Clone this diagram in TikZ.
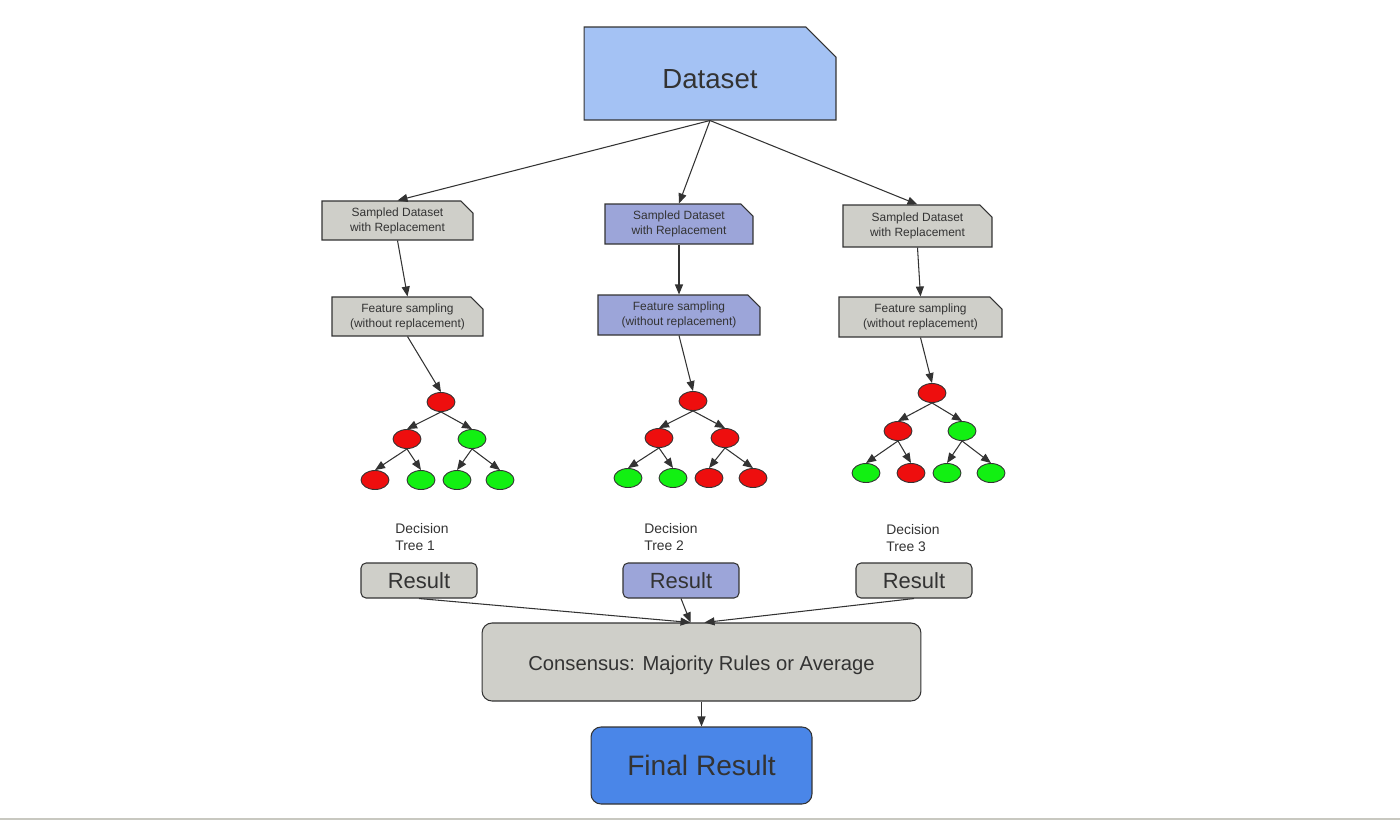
\documentclass[tikz,border=0pt]{standalone}
\usepackage{fontspec}
\setmainfont{Liberation Sans}
\usetikzlibrary{arrows.meta,positioning,shapes.geometric,shapes.misc}
\definecolor{dsblue}{RGB}{164,194,244}
\definecolor{lilac}{RGB}{156,165,217}
\definecolor{boxgray}{RGB}{207,207,201}
\definecolor{finblue}{RGB}{74,134,232}
\definecolor{leafred}{RGB}{238,14,14}
\definecolor{leafgreen}{RGB}{18,240,18}
\definecolor{inkgray}{RGB}{51,51,51}
\definecolor{rulegray}{RGB}{200,200,192}
\tikzset{>={Triangle[length=0.2cm,width=0.16cm]}}
\tikzset{arr/.style={->,inkgray,line width=0.6pt}}
\tikzset{fold/.style={chamfered rectangle,chamfered rectangle corners=north east,chamfered rectangle sep=0.12cm,draw=inkgray,line width=0.6pt,inner sep=0pt,align=center,text=inkgray}}
\tikzset{small/.style={font=\fontsize{6.8}{8.5}\selectfont}}
\tikzset{res/.style={rectangle,rounded corners=0.1cm,draw=inkgray,line width=0.6pt,text=inkgray,inner sep=0pt,minimum width=2.32cm,minimum height=0.7cm,font=\fontsize{12.5}{14}\selectfont}}
\tikzset{rn/.style={ellipse,draw=inkgray,fill=leafred,line width=0.5pt,minimum width=0.56cm,minimum height=0.38cm,inner sep=0pt}}
\tikzset{gn/.style={rn,fill=leafgreen}}
\tikzset{lab/.style={align=left,anchor=west,inner sep=0pt,text=inkgray,font=\fontsize{7.9}{9.7}\selectfont}}

\begin{document}
\begin{tikzpicture}[x=0.02cm,y=-0.02cm]
\useasboundingbox (0,0) rectangle (1400,825);
\draw[rulegray,line width=1.2pt] (0,819) -- (1400,819);
% \draw[help lines,step=100] (0,0) grid (1400,825);
\node (ds) [fold,fill=dsblue,chamfered rectangle sep=0.3cm,minimum width=5.04cm,minimum height=1.86cm,text height=0.6cm,font=\fontsize{15.7}{18}\selectfont] at (710,73.5) {Dataset};
%
\node (sl) [fold,small,fill=boxgray,minimum width=3.02cm,minimum height=0.78cm] at (397.5,220.5) {Sampled Dataset\\with Replacement};
\node (sm) [fold,small,fill=lilac,minimum width=2.96cm,minimum height=0.8cm] at (679,224) {Sampled Dataset\\with Replacement};
\node (sr) [fold,small,fill=boxgray,minimum width=2.98cm,minimum height=0.84cm] at (917.5,226) {Sampled Dataset\\with Replacement};
\node (fl) [fold,small,fill=boxgray,minimum width=3.02cm,minimum height=0.78cm] at (407.5,316.5) {Feature sampling\\(without replacement)};
\node (fm) [fold,small,fill=lilac,minimum width=3.24cm,minimum height=0.8cm] at (679,315) {Feature sampling\\(without replacement)};
\node (fr) [fold,small,fill=boxgray,minimum width=3.26cm,minimum height=0.8cm] at (920.5,317) {Feature sampling\\(without replacement)};
% tree 1
\node (t1a) [rn] at (441,402) {};
\node (t1b) [rn] at (407,439) {};
\node (t1c) [gn] at (472,439) {};
\node (t1d) [rn] at (375,480) {};
\node (t1e) [gn] at (421,480) {};
\node (t1f) [gn] at (457,480) {};
\node (t1g) [gn] at (500,480) {};
% tree 2
\node (t2a) [rn] at (693,401) {};
\node (t2b) [rn] at (659,438) {};
\node (t2c) [rn] at (725,438) {};
\node (t2d) [gn] at (628,478) {};
\node (t2e) [gn] at (673,478) {};
\node (t2f) [rn] at (709,478) {};
\node (t2g) [rn] at (753,478) {};
% tree 3
\node (t3a) [rn] at (932,393) {};
\node (t3b) [rn] at (898,431) {};
\node (t3c) [gn] at (962,431) {};
\node (t3d) [gn] at (866,473) {};
\node (t3e) [rn] at (911,473) {};
\node (t3f) [gn] at (947,473) {};
\node (t3g) [gn] at (991,473) {};
%
\node (dt1) [lab] at (395,537.5) {Decision\\Tree 1};
\node (dt2) [lab] at (644,537.5) {Decision\\Tree 2};
\node (dt3) [lab] at (886,538.5) {Decision\\Tree 3};
\node (rl) [res,fill=boxgray] at (419,580.5) {Result};
\node (rm) [res,fill=lilac] at (681,580.5) {Result};
\node (rr) [res,fill=boxgray] at (914,580.5) {Result};
\node (cons) [res,fill=boxgray,rounded corners=0.2cm,minimum width=8.78cm,minimum height=1.56cm,text height=0.42cm,font=\fontsize{11.5}{14}\selectfont] at (701.5,662) {Consensus: Majority Rules or Average};
\node (fin) [res,fill=finblue,rounded corners=0.2cm,minimum width=4.42cm,minimum height=1.54cm,font=\fontsize{16}{19}\selectfont] at (701.5,765.5) {Final Result};
%
\path[arr] (ds.south) edge (sl.north);
\path[arr] (ds.south) edge (sm.north);
\path[arr] (ds.south) edge (sr.north);
\path[arr] (sl.south) edge (fl.north);
\path[arr] (sm.south) edge (fm.north);
\path[arr] (sr.south) edge (fr.north);
\path[arr] (fl.south) edge (t1a.north);
\path[arr] (fm.south) edge (t2a.north);
\path[arr] (fr.south) edge (t3a.north);
%
\path[arr] (t1a.south) edge (t1b.north);
\path[arr] (t1a.south) edge (t1c.north);
\path[arr] (t1b.south) edge (t1d.north);
\path[arr] (t1b.south) edge (t1e.north);
\path[arr] (t1c.south) edge (t1f.north);
\path[arr] (t1c.south) edge (t1g.north);
\path[arr] (t2a.south) edge (t2b.north);
\path[arr] (t2a.south) edge (t2c.north);
\path[arr] (t2b.south) edge (t2d.north);
\path[arr] (t2b.south) edge (t2e.north);
\path[arr] (t2c.south) edge (t2f.north);
\path[arr] (t2c.south) edge (t2g.north);
\path[arr] (t3a.south) edge (t3b.north);
\path[arr] (t3a.south) edge (t3c.north);
\path[arr] (t3b.south) edge (t3d.north);
\path[arr] (t3b.south) edge (t3e.north);
\path[arr] (t3c.south) edge (t3f.north);
\path[arr] (t3c.south) edge (t3g.north);
%
\path[arr] (rl.south) edge ([xshift=-0.22cm]cons.north);
\path[arr] (rm.south) edge ([xshift=-0.22cm]cons.north);
\path[arr] (rr.south) edge ([xshift=0.06cm]cons.north);
\path[arr] (cons.south) edge (fin.north);
\end{tikzpicture}
\end{document}
